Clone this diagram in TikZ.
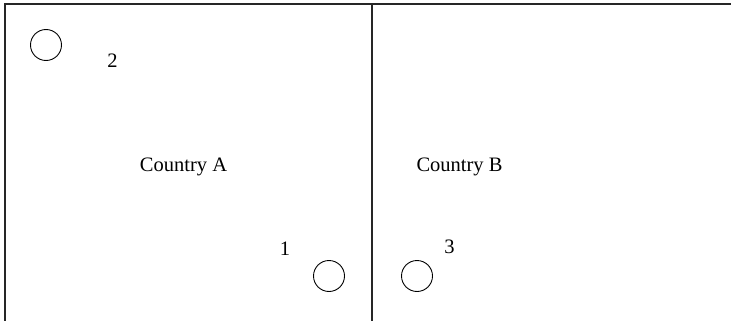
\documentclass[tikz,border=0pt]{standalone}
\usepackage{fontspec}
\setmainfont{Liberation Serif}
\begin{document}
\begin{tikzpicture}[x=1pt,y=-1pt,
  frame/.style={line width=1.2pt, draw=black!85},
  site/.style={circle, draw, line width=0.9pt, minimum size=31pt, inner sep=0pt},
  lbl/.style={anchor=base, inner sep=0pt, font=\fontsize{20.5}{24}\selectfont}]
\useasboundingbox (0,0) rectangle (731,321);
\coordinate (tl) at (5,4);
\coordinate (tr) at (731,4);
\coordinate (bl) at (5,321);
\coordinate (mt) at (372,4);
\coordinate (mb) at (372,321);
\draw[frame] (bl) -- (tl) -- (tr);
\draw[frame] (mt) -- (mb);
\node[site] (c2) at (46,45) {};
\node[site] (c1) at (329,276) {};
\node[site] (c3) at (417,276) {};
\node[lbl] (n2) at (112.5,67) {2};
\node[lbl] (n1) at (285,255) {1};
\node[lbl] (n3) at (449.5,253) {3};
\node[lbl] (ca) at (183.5,171.5) {Country A};
\node[lbl] (cb) at (459.5,171.5) {Country B};
\end{tikzpicture}
\end{document}
